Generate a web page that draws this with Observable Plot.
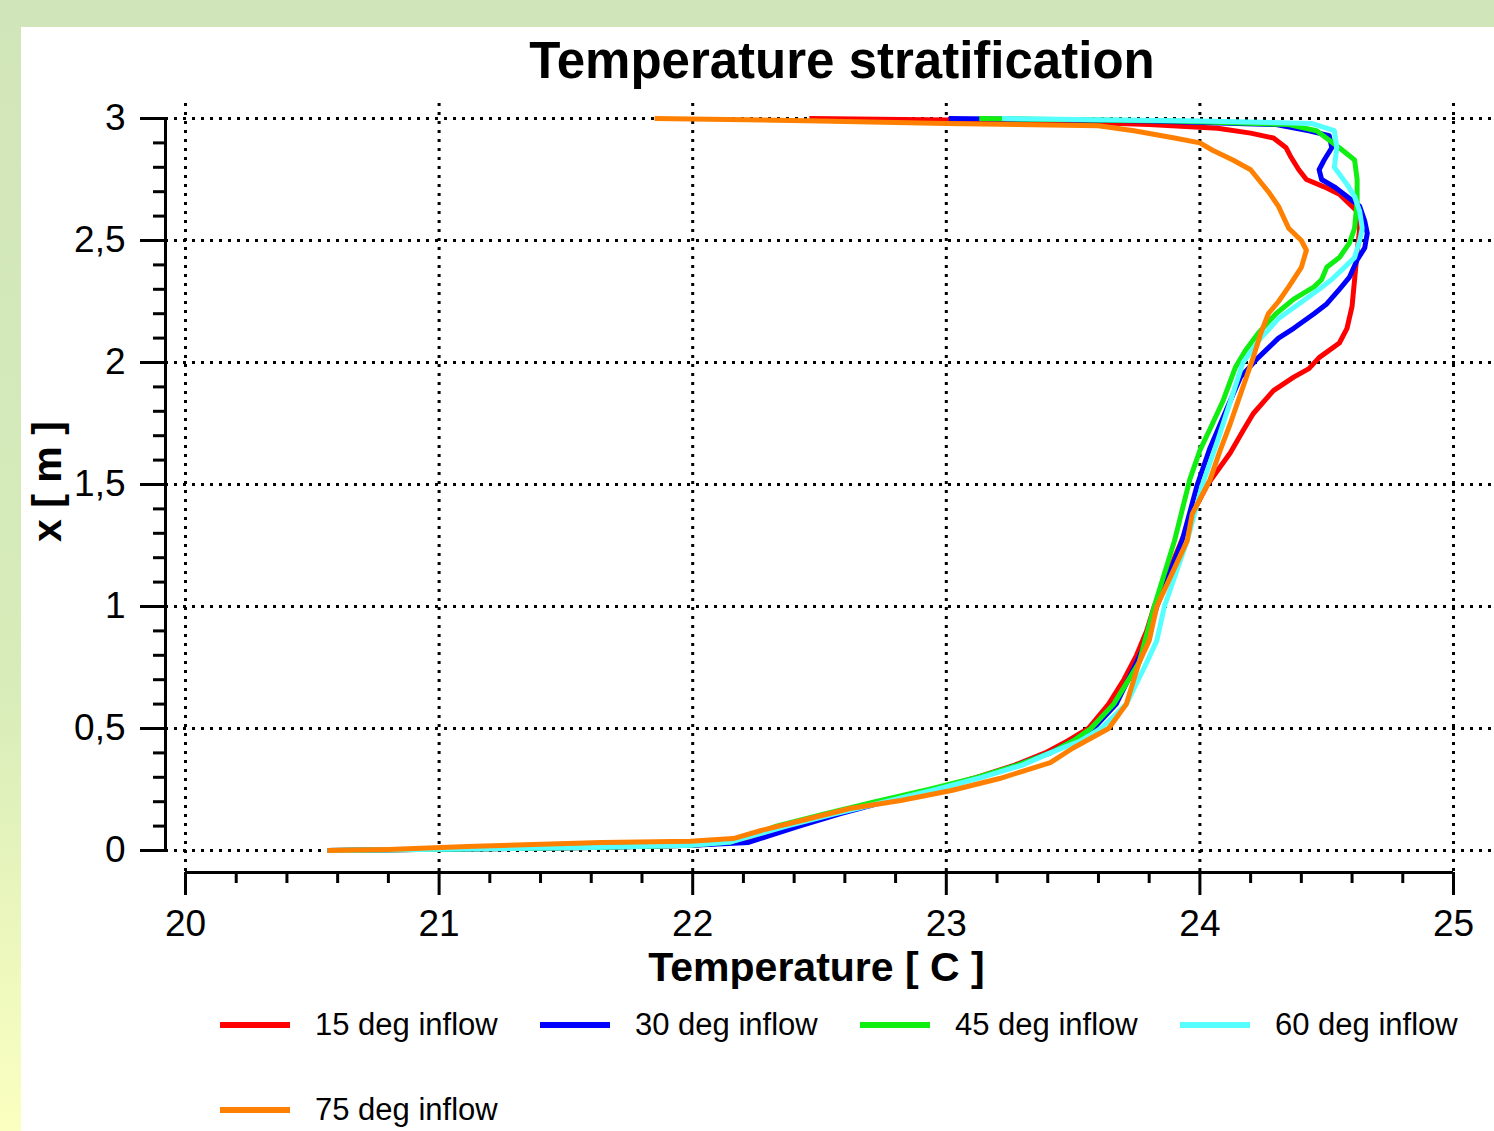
<!DOCTYPE html>
<html><head><meta charset="utf-8">
<script src="https://cdn.jsdelivr.net/npm/d3@7"></script>
<script src="https://cdn.jsdelivr.net/npm/@observablehq/plot@0.6"></script>
<style>
html,body{margin:0;padding:0;}
body{width:1494px;height:1131px;overflow:hidden;position:relative;background:linear-gradient(to bottom,#d1e5ba 0%,#d7ecb9 60%,#fbffc0 100%);font-family:"Liberation Sans",Arial,sans-serif;}
#panel{position:absolute;left:21px;top:27px;width:1473px;height:1104px;background:#fff;}
#wrap{position:relative;}
#title{height:59px;padding-top:36px;line-height:50px;font-size:51px;font-weight:bold;text-align:center;padding-left:190px;color:#000;}
#chart svg{display:block;background:transparent;max-width:none;}
#legend{display:grid;grid-template-columns:320px 320px 320px 274px;row-gap:35px;padding-left:220px;}
.item{display:flex;align-items:center;height:50px;font-size:31px;color:#000;white-space:nowrap;}
.sw{width:70px;height:6px;margin-right:25px;flex:none;}
</style></head><body>
<div id="panel"></div>
<div id="wrap">
  <div id="title">Temperature stratification</div>
  <div id="chart"></div>
  <div id="legend"></div>
</div>
<script>
// ---- data (temperature in °C, height x in m) ----
const seriesNames = ["15 deg inflow", "30 deg inflow", "45 deg inflow", "60 deg inflow", "75 deg inflow"];
const seriesColors = ["#ff0000", "#0000ff", "#11ee11", "#55ffff", "#ff8000"];

const red15H = [0, 0.005, 0.012, 0.022, 0.035, 0.06, 0.1, 0.15, 0.2, 0.25, 0.3, 0.35, 0.4, 0.45, 0.5, 0.6, 0.7, 0.8, 0.9, 1.0, 1.1, 1.2, 1.3, 1.4, 1.5, 1.63, 1.72, 1.79, 1.885, 1.94, 1.975, 2.02, 2.08, 2.14, 2.23, 2.34, 2.45, 2.55, 2.62, 2.65, 2.69, 2.72, 2.75, 2.79, 2.84, 2.88, 2.92, 2.94, 2.96, 2.975, 2.99, 3.0];
const red15T = [20.56, 21.0, 21.6, 22.0, 22.17, 22.25, 22.37, 22.55, 22.74, 22.95, 23.12, 23.27, 23.39, 23.48, 23.56, 23.64, 23.7, 23.75, 23.79, 23.82, 23.86, 23.9, 23.94, 23.98, 24.03, 24.12, 24.17, 24.21, 24.29, 24.37, 24.43, 24.47, 24.55, 24.58, 24.6, 24.61, 24.62, 24.63, 24.62, 24.59, 24.55, 24.49, 24.42, 24.39, 24.36, 24.34, 24.29, 24.2, 24.07, 23.8, 23.4, 22.46];

const blue30H = [0, 0.005, 0.012, 0.022, 0.033, 0.06, 0.1, 0.15, 0.2, 0.25, 0.3, 0.35, 0.4, 0.45, 0.5, 0.6, 0.77, 0.86, 1.0, 1.27, 1.5, 1.65, 1.82, 1.94, 2.02, 2.06, 2.1, 2.14, 2.2, 2.24, 2.3, 2.35, 2.42, 2.47, 2.53, 2.58, 2.64, 2.68, 2.72, 2.75, 2.79, 2.83, 2.88, 2.93, 2.95, 2.975, 2.99, 3.0];
const blue30T = [20.56, 21.0, 21.6, 22.0, 22.22, 22.3, 22.42, 22.58, 22.76, 22.95, 23.13, 23.28, 23.41, 23.5, 23.58, 23.67, 23.75, 23.79, 23.83, 23.93, 23.99, 24.04, 24.11, 24.16, 24.23, 24.27, 24.31, 24.37, 24.45, 24.5, 24.55, 24.59, 24.62, 24.65, 24.66, 24.65, 24.63, 24.58, 24.53, 24.48, 24.47, 24.49, 24.52, 24.51, 24.43, 24.3, 23.8, 23.01];

const green45H = [0, 0.005, 0.012, 0.022, 0.035, 0.07, 0.1, 0.15, 0.2, 0.25, 0.3, 0.35, 0.4, 0.45, 0.5, 0.6, 0.77, 1.0, 1.27, 1.52, 1.64, 1.75, 1.84, 1.98, 2.05, 2.12, 2.2, 2.26, 2.31, 2.34, 2.39, 2.43, 2.49, 2.55, 2.66, 2.75, 2.83, 2.88, 2.95, 2.975, 2.99, 3.0];
const green45T = [20.56, 21.0, 21.6, 22.0, 22.15, 22.25, 22.33, 22.52, 22.72, 22.93, 23.12, 23.28, 23.41, 23.5, 23.57, 23.66, 23.76, 23.82, 23.9, 23.96, 24.0, 24.05, 24.09, 24.14, 24.18, 24.23, 24.3, 24.37, 24.45, 24.48, 24.5, 24.55, 24.59, 24.61, 24.62, 24.62, 24.61, 24.55, 24.46, 24.35, 23.9, 23.13];

const cyan60H = [0, 0.005, 0.012, 0.022, 0.035, 0.07, 0.1, 0.15, 0.2, 0.25, 0.3, 0.35, 0.4, 0.45, 0.5, 0.6, 0.77, 0.86, 1.0, 1.27, 1.5, 1.68, 1.84, 2.0, 2.1, 2.18, 2.24, 2.3, 2.34, 2.43, 2.5, 2.55, 2.62, 2.68, 2.73, 2.8, 2.88, 2.95, 2.98, 2.99, 3.0];
const cyan60T = [20.56, 21.0, 21.6, 22.0, 22.15, 22.27, 22.37, 22.56, 22.76, 22.96, 23.14, 23.3, 23.41, 23.53, 23.61, 23.71, 23.79, 23.83, 23.86, 23.95, 24.01, 24.07, 24.12, 24.17, 24.24, 24.31, 24.39, 24.47, 24.52, 24.61, 24.63, 24.64, 24.63, 24.61, 24.58, 24.53, 24.54, 24.53, 24.44, 24.0, 23.22];

const orange75H = [0, 0.004, 0.016, 0.033, 0.038, 0.049, 0.082, 0.123, 0.172, 0.205, 0.246, 0.295, 0.36, 0.42, 0.5, 0.6, 0.77, 0.86, 1.0, 1.27, 1.38, 1.52, 1.64, 1.75, 1.9, 2.02, 2.12, 2.2, 2.25, 2.31, 2.39, 2.46, 2.5, 2.55, 2.64, 2.7, 2.79, 2.83, 2.87, 2.9, 2.92, 2.95, 2.97, 2.98, 2.99, 3.0];
const orange75T = [20.56, 20.8, 21.11, 21.64, 21.99, 22.16, 22.27, 22.43, 22.62, 22.82, 23.02, 23.21, 23.41, 23.5, 23.64, 23.71, 23.76, 23.8, 23.83, 23.95, 23.97, 24.04, 24.08, 24.12, 24.17, 24.21, 24.24, 24.27, 24.31, 24.35, 24.4, 24.42, 24.4, 24.35, 24.31, 24.27, 24.2, 24.13, 24.05, 24.0, 23.9, 23.74, 23.6, 23.0, 22.5, 21.85];

const xMajor = [20, 21, 22, 23, 24, 25];
const yMajor = [0, 0.5, 1, 1.5, 2, 2.5, 3];
const xTitle = "Temperature [ C ]";
const yTitle = "x [ m ]";

// ---- build ----
const seriesH = [red15H, blue30H, green45H, cyan60H, orange75H];
const seriesT = [red15T, blue30T, green45T, cyan60T, orange75T];
const tables = seriesNames.map((name, i) => seriesT[i].map((t, j) => ({series: name, T: t, h: seriesH[i][j]})));

const xMinor = d3.range(20, 25.001, 0.2).map(v => Math.round(v * 10) / 10).filter(v => !xMajor.includes(v));
const yMinor = d3.range(0, 3.001, 0.1).map(v => Math.round(v * 10) / 10).filter(v => !yMajor.includes(v));
const fmt = d => String(d).replace(".", ",");
const FONT = "Liberation Sans, Arial, sans-serif";

const chart = Plot.plot({
  width: 1494,
  height: 905,
  marginLeft: 185,
  marginRight: 41,
  marginTop: 23,
  marginBottom: 150,
  x: {domain: [20, 25]},
  y: {domain: [0, 3]},
  style: {background: "transparent", color: "black", fontFamily: FONT, fontSize: "37px"},
  marks: [
    Plot.gridX(xMajor, {stroke: "black", strokeOpacity: 1, strokeWidth: 3, strokeDasharray: "3,6", insetTop: -15, insetBottom: -22}),
    Plot.gridY(yMajor, {stroke: "black", strokeOpacity: 1, strokeWidth: 3, strokeDasharray: "3,6", insetLeft: -20, insetRight: -41}),
    ...tables.map((tb, i) => Plot.line(tb, {x: "T", y: "h", stroke: seriesColors[i], strokeWidth: 5, strokeLinejoin: "round", strokeLinecap: "butt"})),
    Plot.ruleX([20], {dx: -20, stroke: "black", strokeWidth: 3}),
    Plot.ruleY([0], {dy: 22, stroke: "black", strokeWidth: 3}),
    Plot.axisY(yMajor, {anchor: "left", dx: -20, tickSize: 25, tickPadding: 15, strokeWidth: 3, tickFormat: fmt, fontSize: 37, label: null}),
    Plot.axisY(yMinor, {anchor: "left", dx: -20, tickSize: 12, strokeWidth: 3, tickFormat: () => "", label: null}),
    Plot.axisX(xMajor, {anchor: "bottom", dy: 22, tickSize: 23, tickPadding: 14, strokeWidth: 3, tickFormat: d => String(d), fontSize: 37, label: null}),
    Plot.axisX(xMinor, {anchor: "bottom", dy: 22, tickSize: 11, strokeWidth: 3, tickFormat: () => "", label: null}),
    Plot.text([xTitle], {text: d => d, frameAnchor: "bottom", textAnchor: "middle", lineAnchor: "middle", dx: -3, dy: 117, fontSize: 41, fontWeight: "bold", fill: "black"}),
    Plot.text([yTitle], {text: d => d, frameAnchor: "left", textAnchor: "middle", lineAnchor: "middle", rotate: -90, dx: -138, dy: -3, fontSize: 41, fontWeight: "bold", fill: "black"})
  ]
});
document.getElementById("chart").appendChild(chart);

const legend = document.getElementById("legend");
seriesNames.forEach((name, i) => {
  const item = document.createElement("div");
  item.className = "item";
  const sw = document.createElement("span");
  sw.className = "sw";
  sw.style.background = seriesColors[i];
  const lab = document.createElement("span");
  lab.textContent = name;
  item.appendChild(sw);
  item.appendChild(lab);
  legend.appendChild(item);
});
</script>
</body></html>
